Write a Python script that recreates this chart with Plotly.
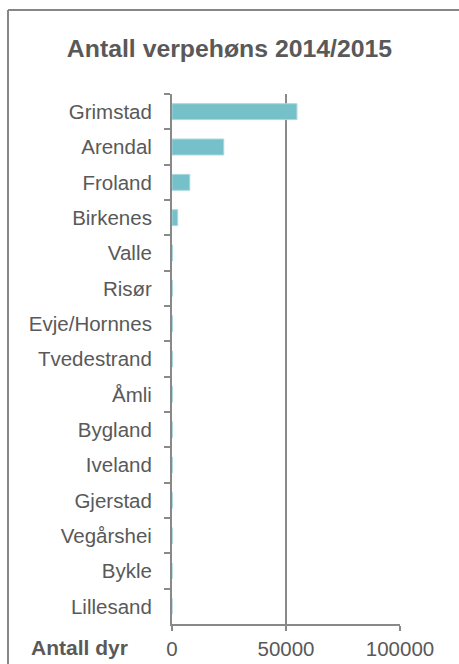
import plotly.graph_objects as go

kommuner = ['Grimstad', 'Arendal', 'Froland', 'Birkenes', 'Valle', 'Risør',
            'Evje/Hornnes', 'Tvedestrand', 'Åmli', 'Bygland', 'Iveland',
            'Gjerstad', 'Vegårshei', 'Bykle', 'Lillesand']
antall = [54800, 22700, 7800, 2500, 250, 200, 200, 180, 150, 150, 120, 120, 100, 0, 0]

x_ticks = [0, 50000, 100000]

grey_txt = '#595959'
grey_line = '#898989'

fig = go.Figure()

fig.add_trace(go.Bar(
    x=antall,
    y=kommuner,
    orientation='h',
    width=0.45,
    marker=dict(color='#76C0C9', line=dict(color='#A9D8DE', width=1)),
    showlegend=False
))

fig.update_layout(
    width=459, height=664,
    margin=dict(l=172, r=59, t=94, b=40),
    paper_bgcolor='white', plot_bgcolor='white',
    font=dict(family='Liberation Sans, Arial', size=20.5, color=grey_txt),
    title=dict(text='<b>Antall verpehøns 2014/2015</b>', x=229.5 / 459, xanchor='center',
               y=1 - 48 / 664, yanchor='middle', xref='container', yref='container',
               font=dict(size=24.8, color=grey_txt)),
)

fig.update_xaxes(
    range=[0, 100000], tickvals=x_ticks, ticktext=[str(v) for v in x_ticks],
    showgrid=True, gridcolor=grey_line, gridwidth=2,
    showline=True, linecolor=grey_line, linewidth=2,
    ticks='outside', ticklen=5, tickcolor=grey_line, tickwidth=2,
    zeroline=False, ticklabelstandoff=0, automargin=False
)

fig.update_yaxes(
    autorange='reversed', tickson='boundaries',
    showgrid=False, showline=True, linecolor=grey_line, linewidth=2,
    ticks='outside', ticklen=6, tickcolor=grey_line, tickwidth=2,
    ticklabelstandoff=14, automargin=False
)

# label for the value axis, level with the tick labels
fig.add_annotation(text='<b>Antall dyr</b>', xref='paper', yref='paper',
                   x=-0.184, y=-0.044, xanchor='right', yanchor='middle',
                   showarrow=False, font=dict(size=21, color=grey_txt))

# frame round the chart: only left and top edges are inside the picture
frame = dict(color='#868686', width=2)
fig.add_shape(type='line', xref='paper', yref='paper',
              x0=-164 / 228, x1=-164 / 228, y0=-100 / 530, y1=1 + 84 / 530,
              line=frame, layer='above')
fig.add_shape(type='line', xref='paper', yref='paper',
              x0=-164 / 228, x1=1 + 100 / 228, y0=1 + 84 / 530, y1=1 + 84 / 530,
              line=frame, layer='above')

# drop the default page margin so the figure sits at the window's corner
fig.write_html('out.html', config={'displayModeBar': False},
               post_script="document.body.style.margin='0';"
                           "document.body.style.overflow='hidden';")
